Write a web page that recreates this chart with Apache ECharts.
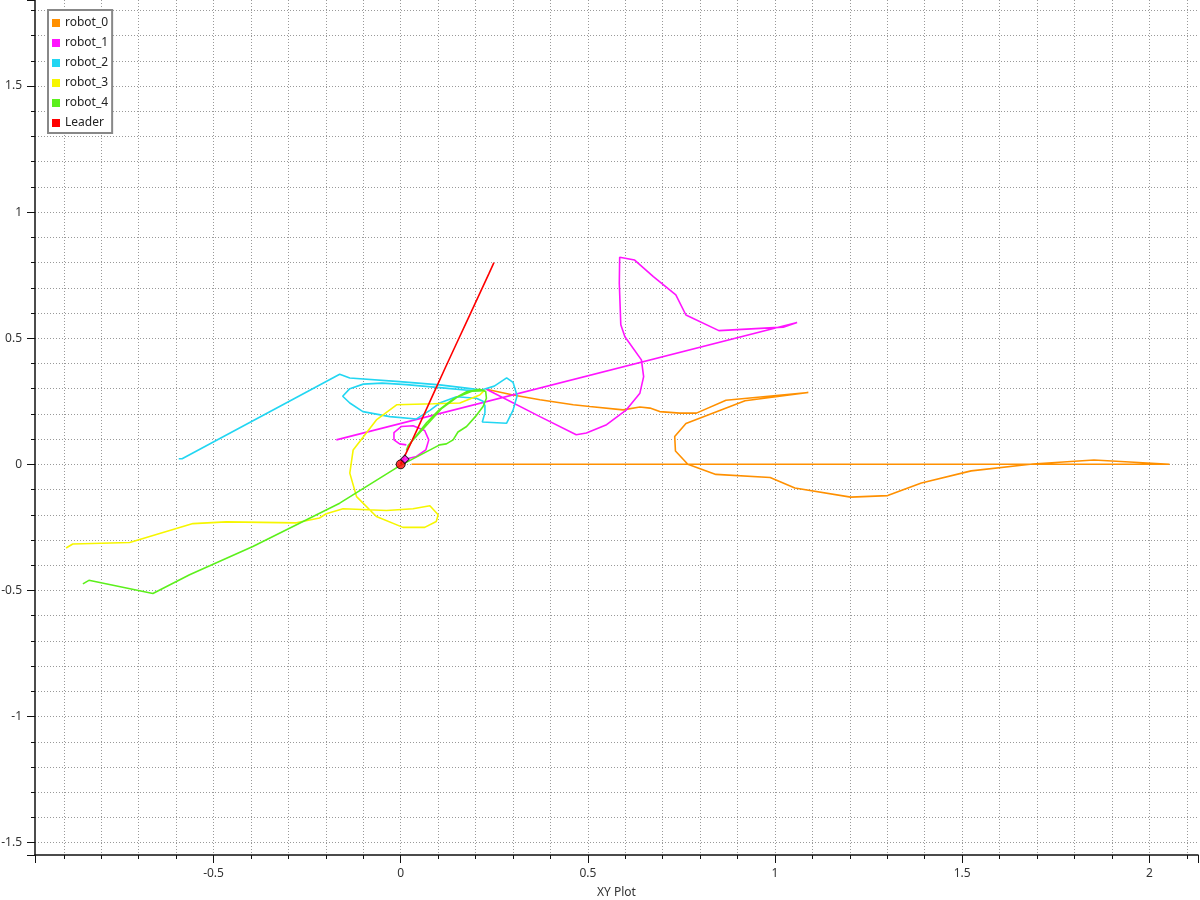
<!DOCTYPE html>
<html>
<head>
<meta charset="utf-8">
<script src="https://cdn.jsdelivr.net/npm/echarts@6/dist/echarts.min.js"></script>
<style>
  html, body { margin: 0; padding: 0; background: #fff; }
  #main { width: 1200px; height: 900px; }
</style>
</head>
<body>
<div id="main"></div>
<script>
// series names + colours
var names = ['robot_0', 'robot_1', 'robot_2', 'robot_3', 'robot_4', 'Leader'];
var colors = ['#ff9000', '#ff14ff', '#22d6f2', '#f6f600', '#5cf01c', '#ff0000'];

// robot_0 path (x, y)
var robot0 = [
  [0.229, 0.298], [0.30, 0.275], [0.372, 0.256], [0.461, 0.236], [0.505, 0.229],
  [0.594, 0.216], [0.639, 0.227], [0.666, 0.223], [0.692, 0.209], [0.746, 0.203],
  [0.790, 0.203], [0.869, 0.254], [1.089, 0.285], [0.920, 0.252], [0.762, 0.162],
  [0.732, 0.110], [0.734, 0.053], [0.767, 0.0], [0.842, -0.040], [0.987, -0.052],
  [1.053, -0.094], [1.202, -0.130], [1.301, -0.124], [1.391, -0.074], [1.524, -0.026],
  [1.688, 0.001], [1.852, 0.017], [2.054, 0.0], [0.029, 0.0]
];

// robot_1 path, main part and the small loop near the origin
var robot1 = [
  [-0.172, 0.097], [1.059, 0.562], [1.022, 0.544], [0.850, 0.530], [0.762, 0.592],
  [0.735, 0.672], [0.675, 0.744], [0.625, 0.810], [0.585, 0.821], [0.584, 0.718],
  [0.588, 0.553], [0.599, 0.506], [0.643, 0.414], [0.649, 0.348], [0.639, 0.282],
  [0.603, 0.216], [0.550, 0.157], [0.496, 0.124], [0.469, 0.117], [0.372, 0.189],
  [0.229, 0.298]
];
var robot1Loop = [
  [0.006, 0.018], [0.042, 0.031], [0.067, 0.057], [0.075, 0.097], [0.064, 0.134],
  [0.033, 0.153], [0.002, 0.150], [-0.018, 0.126], [-0.018, 0.097], [-0.003, 0.081],
  [0.015, 0.077]
];

// robot_2 path
var robot2 = [
  [-0.593, 0.022], [-0.584, 0.022], [-0.163, 0.357], [-0.136, 0.342], [-0.003, 0.328],
  [0.104, 0.315], [0.176, 0.302], [0.216, 0.295], [0.25, 0.31], [0.283, 0.343],
  [0.300, 0.325], [0.311, 0.272], [0.300, 0.214], [0.283, 0.163], [0.218, 0.168],
  [0.225, 0.205], [0.225, 0.232], [0.220, 0.250], [0.202, 0.262], [0.149, 0.268],
  [0.104, 0.243], [0.078, 0.214], [0.042, 0.180], [-0.029, 0.189], [-0.101, 0.209],
  [-0.136, 0.243], [-0.155, 0.270], [-0.136, 0.300], [-0.10, 0.318], [-0.05, 0.322],
  [0.015, 0.316], [0.104, 0.304], [0.193, 0.292], [0.222, 0.294]
];

// robot_3 path
var robot3 = [
  [-0.894, -0.332], [-0.876, -0.316], [-0.724, -0.310], [-0.555, -0.235], [-0.466, -0.228],
  [-0.279, -0.232], [-0.217, -0.213], [-0.199, -0.196], [-0.163, -0.180], [-0.154, -0.176],
  [-0.038, -0.183], [0.033, -0.176], [0.078, -0.164], [0.100, -0.200], [0.095, -0.227],
  [0.064, -0.250], [0.006, -0.250], [-0.065, -0.207], [-0.118, -0.128], [-0.136, -0.035],
  [-0.127, 0.057], [-0.065, 0.176], [-0.011, 0.236], [0.087, 0.240], [0.158, 0.243],
  [0.211, 0.275], [0.225, 0.295]
];

// robot_4 path
var robot4 = [
  [-0.849, -0.474], [-0.833, -0.460], [-0.662, -0.512], [-0.564, -0.438], [-0.395, -0.326],
  [-0.163, -0.154], [-0.003, -0.006], [0.104, 0.077], [0.122, 0.081], [0.140, 0.097],
  [0.153, 0.128], [0.176, 0.150], [0.200, 0.190], [0.220, 0.229], [0.229, 0.262],
  [0.227, 0.289], [0.211, 0.298], [0.176, 0.288], [0.140, 0.258], [0.104, 0.218],
  [0.069, 0.165], [0.040, 0.110], [0.020, 0.075], [0.015, 0.055], [0.030, 0.092],
  [0.072, 0.160], [0.110, 0.222], [0.150, 0.266], [0.190, 0.290], [0.220, 0.292]
];

// Leader path
var leader = [
  [0.0, 0.0], [0.03, 0.093], [0.06, 0.19], [0.09, 0.288], [0.12, 0.386],
  [0.15, 0.482], [0.18, 0.578], [0.21, 0.674], [0.236, 0.757], [0.249, 0.80]
];

// current-position markers
var leaderMarker = [[0.0, 0.0]];
var robot1Marker = [[0.011, 0.02]];

var chart = echarts.init(document.getElementById('main'), null, { renderer: 'canvas' });

function line(name, data, color) {
  return {
    name: name,
    type: 'line',
    data: data,
    showSymbol: false,
    symbol: 'none',
    lineStyle: { color: color, width: 1.6 },
    itemStyle: { color: color },
    emphasis: { disabled: true }
  };
}

function halfLabel(v) {
  var k = v * 2;
  if (Math.abs(k - Math.round(k)) > 1e-6) return '';
  return String(+v.toFixed(1));
}

var tickFont = { fontFamily: 'Noto Sans', fontSize: 12, color: '#333' };

var option = {
  backgroundColor: '#ffffff',
  animation: false,
  grid: { left: 35, right: 2, top: 0, bottom: 45, containLabel: false, outerBoundsMode: 'none' },
  legend: {
    data: names.map(function (n) { return { name: n, icon: 'rect' }; }),
    orient: 'vertical',
    left: 48,
    top: 10,
    padding: [6, 4, 3, 4],
    itemGap: 6,
    itemWidth: 8,
    itemHeight: 8,
    backgroundColor: '#fff',
    borderColor: '#888',
    borderWidth: 2,
    textStyle: { fontFamily: 'Noto Sans', fontSize: 12, color: '#222', lineHeight: 14 }
  },
  xAxis: {
    type: 'value',
    min: -0.977,
    max: 2.13,
    name: 'XY Plot',
    nameLocation: 'middle',
    nameGap: 32,
    nameTextStyle: { fontFamily: 'Noto Sans', fontSize: 12, color: '#333' },
    axisLine: { onZero: false, lineStyle: { color: '#111', width: 1.5 } },
    axisTick: { length: 8, lineStyle: { color: '#111' } },
    minorTick: { show: true, splitNumber: 5, length: 4, lineStyle: { color: '#111' } },
    axisLabel: Object.assign({ margin: 13, formatter: halfLabel, showMinLabel: false, showMaxLabel: false }, tickFont),
    splitLine: { show: true, showMinLine: false, showMaxLine: false, lineStyle: { color: '#999', type: [1, 2] } },
    minorSplitLine: { show: true, lineStyle: { color: '#999', type: [1, 2] } }
  },
  yAxis: {
    type: 'value',
    min: -1.549,
    max: 1.841,
    axisLine: { show: true, onZero: false, lineStyle: { color: '#111', width: 1.5 } },
    axisTick: { show: true, length: 8, lineStyle: { color: '#111' } },
    minorTick: { show: true, splitNumber: 5, length: 4, lineStyle: { color: '#111' } },
    axisLabel: Object.assign({ margin: 13, formatter: halfLabel, showMinLabel: false, showMaxLabel: false }, tickFont),
    splitLine: { show: true, showMinLine: false, showMaxLine: false, lineStyle: { color: '#999', type: [1, 2] } },
    minorSplitLine: { show: true, lineStyle: { color: '#999', type: [1, 2] } }
  },
  series: [
    line(names[0], robot0, colors[0]),
    line(names[1], robot1, colors[1]),
    line(names[1], robot1Loop, colors[1]),
    line(names[2], robot2, colors[2]),
    line(names[3], robot3, colors[3]),
    line(names[4], robot4, colors[4]),
    line(names[5], leader, colors[5]),
    {
      name: names[1], type: 'scatter', data: robot1Marker, symbol: 'rect', symbolRotate: 45,
      symbolSize: 6, z: 5, itemStyle: { color: colors[1], borderColor: '#000', borderWidth: 1 }
    },
    {
      name: names[5], type: 'scatter', data: leaderMarker, symbol: 'circle',
      symbolSize: 9, z: 4, itemStyle: { color: colors[5], borderColor: '#000', borderWidth: 1 }
    }
  ]
};

chart.setOption(option);
</script>
</body>
</html>
